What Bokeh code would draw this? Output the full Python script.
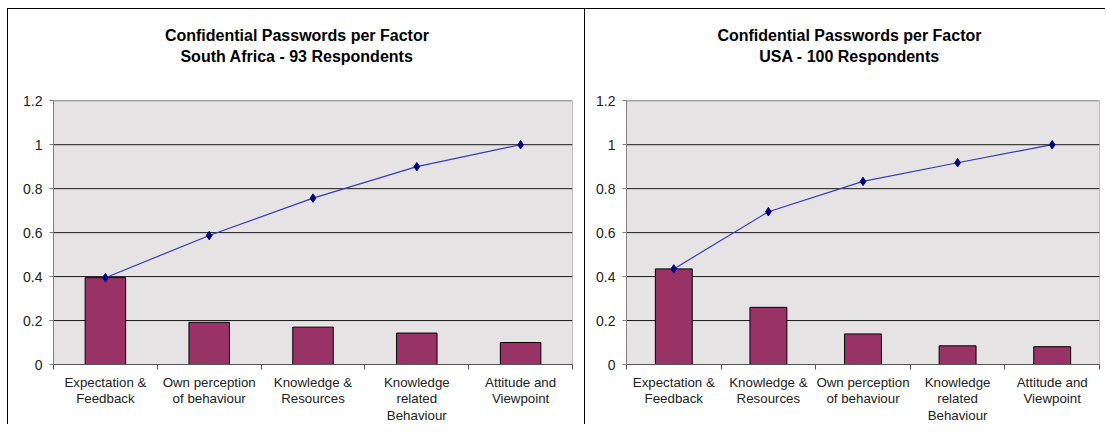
from bokeh.plotting import figure
from bokeh.layouts import row
from bokeh.models import FixedTicker, CustomJSTickFormatter, Label, Range1d, ColumnDataSource
from bokeh.embed import file_html
from bokeh.resources import INLINE

# ---- data ----
sa_categories = ["Expectation &\nFeedback", "Own perception\nof behaviour", "Knowledge &\nResources",
                 "Knowledge\nrelated\nBehaviour", "Attitude and\nViewpoint"]
sa_share = [0.395, 0.192, 0.170, 0.143, 0.100]
sa_cumulative = [0.395, 0.587, 0.757, 0.900, 1.000]
sa_title = ["Confidential Passwords per Factor", "South Africa - 93 Respondents"]

us_categories = ["Expectation &\nFeedback", "Knowledge &\nResources", "Own perception\nof behaviour",
                 "Knowledge\nrelated\nBehaviour", "Attitude and\nViewpoint"]
us_share = [0.435, 0.260, 0.139, 0.085, 0.081]
us_cumulative = [0.435, 0.695, 0.833, 0.918, 1.000]
us_title = ["Confidential Passwords per Factor", "USA - 100 Respondents"]

y_ticks = [0, 0.2, 0.4, 0.6, 0.8, 1.0, 1.2]
y_max = 1.2

FONT = "Liberation Sans"
FRAME_H = 354
PLOT_H = 263  # pixel height of the 0..1.2 plot area
Y_TOP = y_max * FRAME_H / PLOT_H


def make_chart(categories, share, cumulative, title, frame_w, border_left, border_right, title_x, styles):
    n = len(categories)
    xs = [i + 0.5 for i in range(n)]
    p = figure(frame_width=frame_w, frame_height=FRAME_H, output_backend="svg", toolbar_location=None,
               x_range=Range1d(0, n), y_range=Range1d(0, Y_TOP),
               min_border_left=border_left, min_border_right=border_right,
               min_border_top=0, min_border_bottom=50)
    p.styles = styles
    p.background_fill_color = "white"
    p.border_fill_color = "white"
    p.outline_line_color = None

    # plot area
    p.quad(left=[0], right=[n], bottom=[0], top=[y_max], fill_color="#e5e3e3",
           line_color="#808080", line_width=1)
    # horizontal gridlines
    p.segment(x0=[0] * len(y_ticks[1:-1]), x1=[n] * len(y_ticks[1:-1]),
              y0=y_ticks[1:-1], y1=y_ticks[1:-1], line_color="#1a1a1a", line_width=1)

    src = ColumnDataSource(dict(x=xs, share=share, cum=cumulative))
    p.vbar(x="x", top="share", width=0.39, source=src, fill_color="#993366",
           line_color="black", line_width=1)
    p.line(x="x", y="cum", source=src, line_color="#3838c0", line_width=1.2)
    p.scatter(x="x", y="cum", source=src, marker="diamond", size=8.5,
              fill_color="#000080", line_color="#000080")

    p.xgrid.visible = False
    p.ygrid.visible = False

    # y axis
    p.yaxis.bounds = (0, y_max)
    p.yaxis.ticker = FixedTicker(ticks=y_ticks)
    p.yaxis.formatter = CustomJSTickFormatter(code="return tick.toFixed(1).replace(/\\.0$/, '');")
    p.yaxis.axis_line_color = "#808080"
    p.yaxis.major_tick_line_color = "#808080"
    p.yaxis.major_tick_out = 4
    p.yaxis.major_tick_in = 0
    p.yaxis.minor_tick_line_color = None
    p.yaxis.major_label_standoff = 7
    p.yaxis.major_label_text_font = FONT
    p.yaxis.major_label_text_font_size = "14px"
    p.yaxis.major_label_text_color = "#222222"

    # x axis
    p.xaxis.ticker = FixedTicker(ticks=xs, minor_ticks=list(range(n + 1)))
    p.xaxis.major_label_overrides = {x: c for x, c in zip(xs, categories)}
    p.xaxis.axis_line_color = "#555555"
    p.xaxis.major_tick_out = 0
    p.xaxis.major_tick_in = 0
    p.xaxis.minor_tick_out = 5
    p.xaxis.minor_tick_in = 0
    p.xaxis.minor_tick_line_color = "#555555"
    p.xaxis.major_label_standoff = 5
    p.xaxis.major_label_text_font = FONT
    p.xaxis.major_label_text_font_size = "13.3px"
    p.xaxis.major_label_text_color = "#222222"
    p.xaxis.major_label_text_line_height = 1.1

    for txt, y in zip(title, [1.496, 1.400]):
        p.add_layout(Label(x=title_x, y=y, text=txt, text_align="center", text_baseline="middle",
                           text_font=FONT, text_font_size="16px", text_font_style="bold",
                           text_color="black"))
    return p


p1 = make_chart(sa_categories, sa_share, sa_cumulative, sa_title, 517, 45, 14, 2.345,
                {"margin-left": "7px", "margin-top": "8px", "border-left": "1px solid black",
                 "border-top": "1px solid black", "border-right": "1px solid black"})
p2 = make_chart(us_categories, us_share, us_cumulative, us_title, 473, 41, 6, 2.357,
                {"margin-top": "8px", "border-top": "1px solid black"})

layout = row(p1, p2)
open("out.html", "w").write(file_html(layout, INLINE))
